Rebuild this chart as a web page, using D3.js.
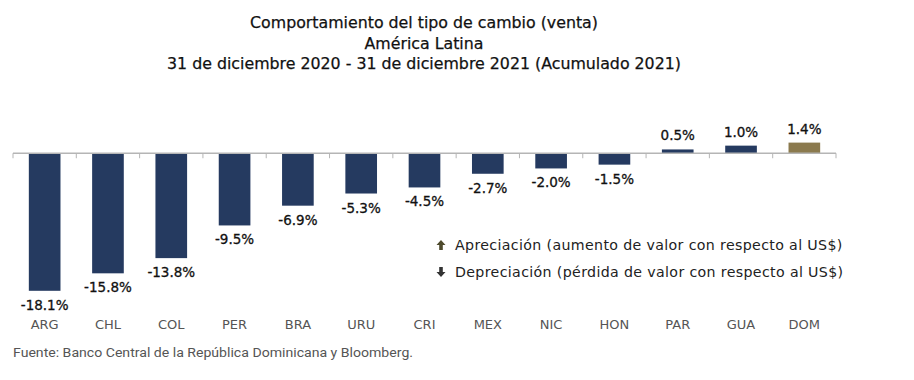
<!DOCTYPE html>
<html>
<head>
<meta charset="utf-8">
<script src="https://cdn.jsdelivr.net/npm/d3@7"></script>
<style>
  body { margin: 0; background: #fff; }
  svg { display: block; }
</style>
</head>
<body>
<div id="chart"></div>
<script>
((() => {

  var width = 914;
  var height = 380;

  // datos
  var paises = ["ARG", "CHL", "COL", "PER", "BRA", "URU", "CRI", "MEX", "NIC", "HON", "PAR", "GUA", "DOM"];
  var valores = [-18.1, -15.8, -13.8, -9.5, -6.9, -5.3, -4.5, -2.7, -2.0, -1.5, 0.5, 1.0, 1.4];
  var titulos = [
    "Comportamiento del tipo de cambio (venta)",
    "América Latina",
    "31 de diciembre 2020 - 31 de diciembre 2021 (Acumulado 2021)"
  ];
  var leyenda = [
    "Apreciación (aumento de valor con respecto al US$)",
    "Depreciación (pérdida de valor con respecto al US$)"
  ];
  var fuente = "Fuente: Banco Central de la República Dominicana y Bloomberg.";

  var navy = "#253a60";
  var olive = "#8b7a4e";

  var svg = d3.select("#chart")
    .append("svg")
    .attr("width", width)
    .attr("height", height);

  // titulo
  svg.append("g")
    .selectAll("text")
    .data(titulos)
    .enter()
    .append("text")
    .attr("x", 424)
    .attr("y", (d, i) => 28 + i * 20.5)
    .attr("text-anchor", "middle")
    .style("font-family", "'DejaVu Sans', sans-serif")
    .style("font-size", "15.8px")
    .style("fill", "#111")
    .style("stroke", "#111")
    .style("stroke-width", 0.25)
    .text(d => d);

  var x = d3.scaleBand()
    .domain(paises)
    .range([13, 836])
    .paddingInner(0.5)
    .paddingOuter(0.25);

  var y = d3.scaleLinear()
    .domain([-18.1, 1.4])
    .range([290.8, 142.6]);

  var datos = paises.map((p, i) => ({ pais: p, valor: valores[i] }));

  // barras
  svg.append("g")
    .selectAll("rect")
    .data(datos)
    .enter()
    .append("rect")
    .attr("x", d => x(d.pais))
    .attr("width", x.bandwidth())
    .attr("y", d => y(Math.max(0, d.valor)))
    .attr("height", d => Math.abs(y(d.valor) - y(0)))
    .style("fill", d => d.pais == "DOM" ? olive : navy);

  // eje
  var eje = svg.append("g")
    .attr("transform", "translate(0," + y(0) + ")");
  eje.append("line")
    .attr("x1", 13).attr("x2", 836)
    .attr("y1", 0).attr("y2", 0)
    .style("stroke", "#b5b5b5")
    .style("stroke-width", 1.3);
  eje.selectAll("line.tick")
    .data(d3.range(paises.length + 1))
    .enter()
    .append("line")
    .attr("class", "tick")
    .attr("x1", i => 13 + i * x.step())
    .attr("x2", i => 13 + i * x.step())
    .attr("y1", 0).attr("y2", 5)
    .style("stroke", "#b5b5b5");

  // etiquetas de valor
  svg.append("g")
    .selectAll("text")
    .data(datos)
    .enter()
    .append("text")
    .attr("x", d => x(d.pais) + x.bandwidth() / 2)
    .attr("y", d => d.valor < 0 ? y(d.valor) + 19 : y(d.valor) - 9)
    .attr("text-anchor", "middle")
    .style("font-family", "'DejaVu Sans', sans-serif")
    .style("font-size", "13.5px")
    .style("fill", "#111")
    .style("stroke", "#111")
    .style("stroke-width", 0.3)
    .text(d => d3.format(".1f")(d.valor).replace("\u2212", "-") + "%");

  // categorias
  svg.append("g")
    .selectAll("text")
    .data(paises)
    .enter()
    .append("text")
    .attr("x", d => x(d) + x.bandwidth() / 2)
    .attr("y", 329)
    .attr("text-anchor", "middle")
    .style("font-family", "'DejaVu Sans', sans-serif")
    .style("font-size", "13px")
    .style("fill", "#555")
    .text(d => d);

  // leyenda
  var ley = svg.append("g").attr("transform", "translate(441,245)");
  ley.append("path")
    .attr("d", "M0,-5 L4.5,0 L1.8,0 L1.8,5 L-1.8,5 L-1.8,0 L-4.5,0 Z")
    .style("fill", "#4e4a2c");
  ley.append("path")
    .attr("transform", "translate(0,27)")
    .attr("d", "M0,5 L4.5,0 L1.8,0 L1.8,-5 L-1.8,-5 L-1.8,0 L-4.5,0 Z")
    .style("fill", "#333");
  ley.selectAll("text")
    .data(leyenda)
    .enter()
    .append("text")
    .attr("x", 14)
    .attr("y", (d, i) => i * 26.5 + 5)
    .style("font-family", "'DejaVu Sans', sans-serif")
    .style("font-size", "14.2px")
    .style("letter-spacing", "0.35px")
    .style("fill", "#222")
    .text(d => d);

  // fuente
  svg.append("text")
    .attr("x", 13)
    .attr("y", 357)
    .style("font-family", "'Liberation Sans Narrow', 'Roboto', sans-serif")
    .style("font-size", "12px")
    .style("fill", "#555")
    .attr("textLength", 400)
    .attr("lengthAdjust", "spacingAndGlyphs")
    .text(fuente);

})());
</script>
</body>
</html>
